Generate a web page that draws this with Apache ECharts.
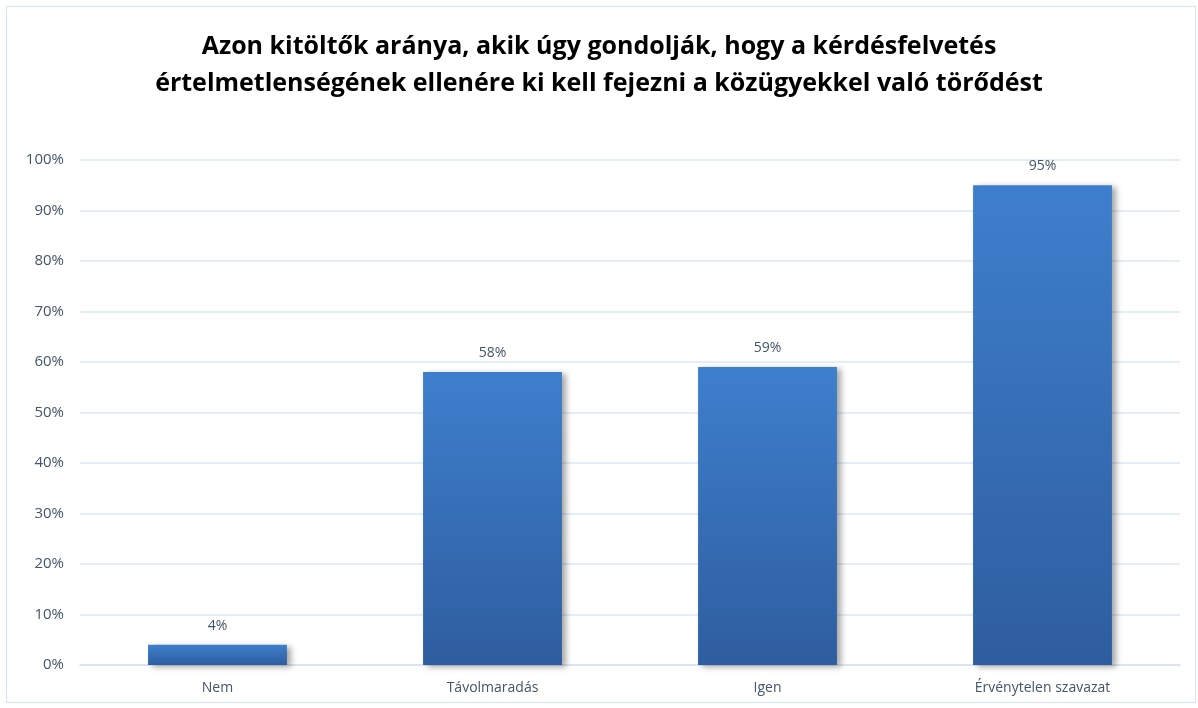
<!DOCTYPE html>
<html><head><meta charset="utf-8">
<script src="https://cdn.jsdelivr.net/npm/echarts@6/dist/echarts.min.js"></script>
<style>html,body{margin:0;padding:0;background:#fff}#c{width:1198px;height:708px}
#frame{position:absolute;left:6px;top:6px;width:1190px;height:697px;border:1px solid #d6e3f3;box-sizing:border-box;pointer-events:none}</style>
</head><body><div id="c"></div><div id="frame"></div>
<script>
const categories = ['Nem', 'Távolmaradás', 'Igen', 'Érvénytelen szavazat'];
const values = [4, 58, 59, 95];
const titleLines = ['Azon kitöltők aránya, akik úgy gondolják, hogy a kérdésfelvetés', 'értelmetlenségének ellenére ki kell fejezni a közügyekkel való törődést'];
const chart = echarts.init(document.getElementById('c'));
chart.setOption({
  backgroundColor: '#fff',
  title: {
    text: titleLines.join('\n'), left: 'center', top: 23,
    textStyle: { fontFamily: '"Liberation Sans Narrow","Open Sans",sans-serif', fontWeight: 'bold', fontSize: 25, color: '#000', lineHeight: 37 }
  },
  grid: { left: 80, right: 18, top: 160, bottom: 43 },
  xAxis: {
    type: 'category', data: categories,
    axisLine: { lineStyle: { color: '#d6e3f3', width: 1.5 } },
    axisTick: { show: false },
    axisLabel: { color: '#44546a', fontSize: 14, margin: 16, fontFamily: '"Open Sans",sans-serif' }
  },
  yAxis: {
    type: 'value', min: 0, max: 100, interval: 10,
    axisLabel: { formatter: '{value}%', color: '#44546a', fontSize: 15, margin: 16, fontFamily: '"Open Sans",sans-serif' },
    splitLine: { lineStyle: { color: '#dde8f5', width: 1.5 } },
    axisLine: { show: false }, axisTick: { show: false }
  },
  series: [{
    type: 'bar', data: values, barWidth: '50.5%',
    itemStyle: {
      color: new echarts.graphic.LinearGradient(0, 0, 0, 1, [{ offset: 0, color: '#3e7fcd' }, { offset: 1, color: '#2e5d9f' }]),
      shadowColor: 'rgba(0,0,0,0.35)', shadowBlur: 6, shadowOffsetX: 4, shadowOffsetY: 2
    },
    label: { show: true, position: 'top', formatter: '{c}%', color: '#44546a', fontSize: 14, distance: 12, fontFamily: '"Open Sans",sans-serif' }
  }]
});
</script></body></html>
